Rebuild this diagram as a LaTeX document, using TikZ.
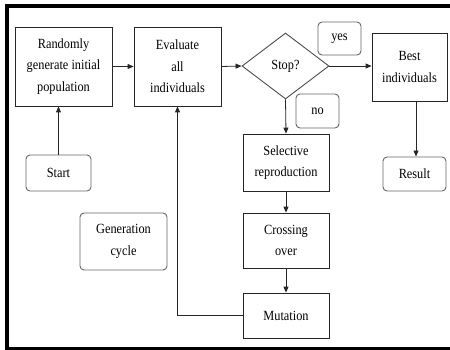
\documentclass[tikz,border=0pt]{standalone}
\usepackage{fontspec}
\setmainfont{Liberation Serif}[FakeStretch=0.88]
\usetikzlibrary{arrows.meta,shapes.geometric}

\begin{document}
\begin{tikzpicture}[x=1pt, y=-1pt,
    every node/.style={font=\fontsize{14}{21.5}\selectfont, align=center, inner sep=0pt},
    stepbox/.style={draw=black!85, line width=0.8pt, minimum width=#1},
    roundbox/.style={draw=black!60, line width=0.9pt, rounded corners=4pt},
    flow/.style={draw=black!85, line width=0.8pt, -{Triangle[length=6pt,width=5pt]}}]
    \useasboundingbox (0,0) rectangle (450,350);
    \draw[line width=4pt] (7,6.5) rectangle (470,349);
    % main line
    \node[stepbox=97pt, minimum height=79pt] (rand) at (63.5,66.5) {Randomly\\generate initial\\population};
    \node[stepbox=87pt, minimum height=79pt] (eval) at (177.5,66.5) {Evaluate\\all\\individuals};
    \node[draw=black!70, line width=0.9pt, diamond, minimum width=87pt, minimum height=66pt, aspect=1.3] (stop) at (285.5,66) {Stop?};
    \node[stepbox=75pt, minimum height=68pt] (best) at (409.5,67) {Best\\individuals};
    \node[roundbox, minimum width=63pt, minimum height=34pt] (result) at (414.5,174) {Result};
    \node[roundbox, minimum width=65pt, minimum height=36pt] (start) at (58.5,173) {Start};
    \node[roundbox, minimum width=43pt, minimum height=33pt] (yes) at (339.5,38.5) {yes};
    \node[roundbox, minimum width=43pt, minimum height=34pt] (no) at (317.5,111) {no};
    \node[roundbox, minimum width=87pt, minimum height=57pt] (cycle) at (123.5,241.5) {Generation\\cycle};
    % the cycle
    \node[stepbox=86pt, minimum height=57pt] (sel) at (286,162.5) {Selective\\reproduction};
    \node[stepbox=86pt, minimum height=55pt] (cross) at (286,240.5) {Crossing\\over};
    \node[stepbox=86pt, minimum height=45pt] (mut) at (286,315.5) {Mutation};

    \draw[flow] (start.north) -- (start.north |- rand.south);
    \draw[flow] (rand.east) -- (eval.west);
    \draw[flow] (eval.east) -- (stop.west);
    \draw[flow] (stop.east) -- (stop.east -| best.west);
    \draw[flow] (stop.south) -- (sel.north);
    \draw[flow] (sel.south) -- (cross.north);
    \draw[flow] (cross.south) -- (mut.north);
    \draw[flow] (mut.west) -| (eval.south);
    \draw[flow] ([xshift=1.5pt]result.north |- best.south) -- ([xshift=1.5pt]result.north);
  \end{tikzpicture}
\end{document}
